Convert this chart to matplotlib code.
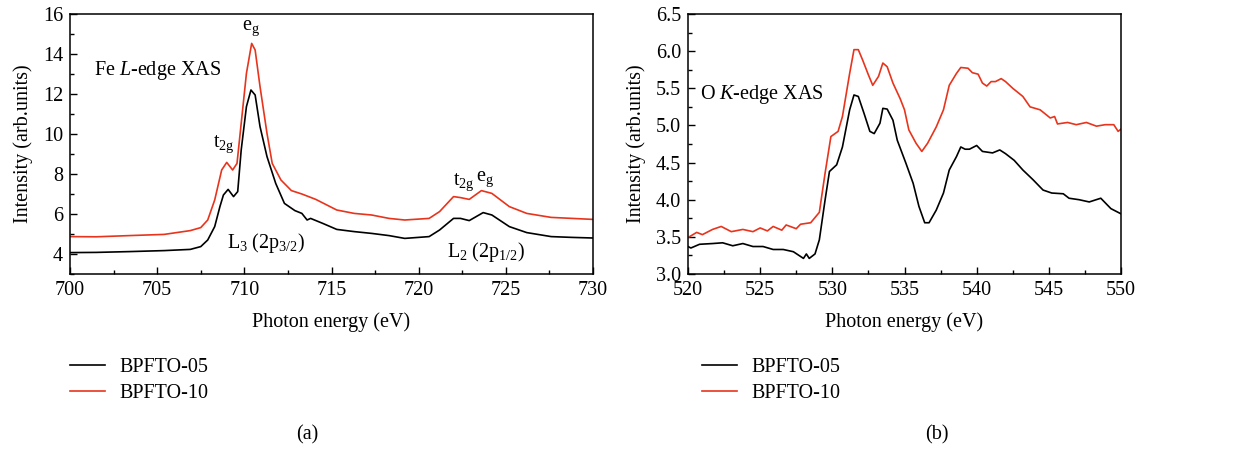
import matplotlib
matplotlib.use("Agg")
import matplotlib.pyplot as plt
from matplotlib.ticker import MultipleLocator, FormatStrFormatter

plt.rcParams['font.family'] = ['Liberation Serif', 'DejaVu Serif']
plt.rcParams['mathtext.fontset'] = 'custom'
plt.rcParams['mathtext.rm'] = 'Liberation Serif'
plt.rcParams['mathtext.it'] = 'Liberation Serif:italic'
plt.rcParams['font.size'] = 14.5

RED = '#e8341c'

# Fe L-edge spectra
fe_e = [700.0, 701.5, 703.4, 705.4, 706.9, 707.5, 707.9, 708.3, 708.6, 708.8, 709.07, 709.38,
        709.62, 709.82, 710.12, 710.38, 710.62, 710.9, 711.3, 711.8, 712.3, 712.9, 713.3,
        713.6, 713.8, 714.5, 715.3, 716.3, 717.3, 718.3, 719.2, 720.6, 721.2, 722.0, 722.4, 722.9,
        723.7, 724.2, 725.2, 726.2, 727.6, 728.8, 730.0]
fe_05 = [4.07, 4.08, 4.12, 4.17, 4.23, 4.37, 4.7, 5.37, 6.37, 6.95, 7.23, 6.87,
         7.12, 9.2, 11.37, 12.2, 11.95, 10.37, 8.87, 7.53, 6.53, 6.17, 6.03,
         5.7, 5.78, 5.53, 5.23, 5.12, 5.03, 4.92, 4.78, 4.87, 5.2, 5.78, 5.78, 5.67,
         6.07, 5.95, 5.37, 5.07, 4.87, 4.83, 4.8]
fe_e10 = [700.0, 701.5, 703.4, 705.4, 706.9, 707.5, 707.9, 708.3, 708.7, 708.99, 709.33, 709.58,
          709.82, 710.12, 710.42, 710.62, 710.9, 711.3, 711.6, 712.1, 712.7, 713.3, 714.1,
          715.3, 716.3, 717.3, 718.3, 719.2, 720.6, 721.2, 722.0, 722.4, 722.9, 723.6,
          724.2, 725.2, 726.2, 727.6, 728.8, 730.0]
fe_10 = [4.87, 4.86, 4.92, 4.98, 5.17, 5.32, 5.7, 6.7, 8.2, 8.58, 8.2, 8.53,
         10.53, 13.03, 14.53, 14.2, 12.37, 10.03, 8.53, 7.7, 7.17, 7.0, 6.73,
         6.2, 6.03, 5.95, 5.78, 5.7, 5.78, 6.12, 6.87, 6.82, 6.73, 7.17,
         7.03, 6.37, 6.03, 5.83, 5.78, 5.73]

# O K-edge spectra
o_e05 = [520.0, 520.2, 520.8, 521.7, 522.4, 523.1, 523.8, 524.5, 525.2, 525.9, 526.6,
         527.3, 528.0, 528.2, 528.4, 528.8, 529.1, 529.5, 529.8, 530.3, 530.7, 531.2,
         531.5, 531.8, 532.2, 532.6, 532.9, 533.3, 533.5, 533.8, 534.2, 534.5, 535.1,
         535.6, 536.0, 536.4, 536.7, 537.2, 537.7, 538.1, 538.6, 538.9, 539.2, 539.5,
         540.0, 540.4, 541.1, 541.6, 542.0, 542.6, 543.2, 543.9, 544.6, 545.2, 546.0,
         546.4, 547.1, 547.8, 548.6, 549.3, 550.0]
o_05 = [3.37, 3.35, 3.40, 3.41, 3.42, 3.38, 3.41, 3.37, 3.37, 3.33, 3.33,
        3.30, 3.21, 3.27, 3.21, 3.27, 3.46, 4.0, 4.38, 4.47, 4.71, 5.21,
        5.41, 5.39, 5.16, 4.92, 4.89, 5.03, 5.23, 5.22, 5.07, 4.80, 4.49,
        4.22, 3.91, 3.69, 3.69, 3.86, 4.09, 4.40, 4.58, 4.71, 4.68, 4.68,
        4.73, 4.65, 4.63, 4.67, 4.62, 4.53, 4.40, 4.27, 4.13, 4.09, 4.08,
        4.02, 4.0, 3.97, 4.02, 3.88, 3.81]
o_e10 = [520.0, 520.6, 521.0, 521.7, 522.3, 523.0, 523.8, 524.5, 525.0, 525.5, 525.9,
         526.5, 526.8, 527.5, 527.8, 528.5, 529.1, 529.5, 529.9, 530.4, 530.7, 531.2,
         531.5, 531.8, 532.1, 532.5, 532.8, 533.2, 533.5, 533.8, 534.2, 534.7, 535.0,
         535.3, 535.8, 536.2, 536.6, 537.2, 537.7, 538.1, 538.6, 538.9, 539.4, 539.7,
         540.1, 540.4, 540.7, 541.0, 541.3, 541.7, 542.0, 542.5, 543.2, 543.7, 544.4,
         545.1, 545.4, 545.6, 546.3, 546.9, 547.6, 548.3, 548.9, 549.5, 549.8, 550.0]
o_10 = [3.49, 3.56, 3.53, 3.60, 3.64, 3.57, 3.60, 3.57, 3.62, 3.58, 3.64,
        3.59, 3.66, 3.61, 3.67, 3.69, 3.83, 4.36, 4.85, 4.92, 5.12, 5.70,
        6.02, 6.02, 5.88, 5.68, 5.54, 5.66, 5.84, 5.79, 5.57, 5.36, 5.21,
        4.94, 4.76, 4.65, 4.76, 4.98, 5.21, 5.54, 5.70, 5.78, 5.77, 5.71,
        5.69, 5.57, 5.53, 5.59, 5.59, 5.63, 5.59, 5.50, 5.39, 5.25, 5.21,
        5.10, 5.12, 5.02, 5.04, 5.01, 5.04, 4.99, 5.01, 5.01, 4.92, 4.95]

labels = ['BPFTO-05', 'BPFTO-10']

W, H = 1250, 449
fig = plt.figure(figsize=(12.5, 4.49), dpi=100)
axa = fig.add_axes([70 / W, 1 - 274 / H, (593 - 70) / W, 260 / H])
axb = fig.add_axes([688 / W, 1 - 274 / H, (1121 - 688) / W, 260 / H])


def style(ax, xmin, xmax, ymin, ymax, xmaj, ymaj):
    ax.set_xlim(xmin, xmax)
    ax.set_ylim(ymin, ymax)
    ax.xaxis.set_major_locator(MultipleLocator(xmaj))
    ax.xaxis.set_minor_locator(MultipleLocator(xmaj / 2))
    ax.yaxis.set_major_locator(MultipleLocator(ymaj))
    ax.yaxis.set_minor_locator(MultipleLocator(ymaj / 2))
    ax.tick_params(which='both', direction='in', top=False, right=False, width=1.0)
    ax.tick_params(which='major', length=5, pad=5)
    ax.tick_params(which='minor', length=3)
    for s in ax.spines.values():
        s.set_linewidth(1.1)
    ax.set_xlabel('Photon energy (eV)', labelpad=9)
    ax.set_ylabel('Intensity (arb.units)', labelpad=7)


la1, = axa.plot(fe_e, fe_05, color='black', lw=1.2)
la2, = axa.plot(fe_e10, fe_10, color=RED, lw=1.2)
style(axa, 700, 730, 3, 16, 5, 2)
axa.set_yticks([4, 6, 8, 10, 12, 14, 16])

axa.text(701.4, 13.2, r'Fe $\mathit{L}$-edge XAS', va='center')
axa.text(710.4, 15.3, r'$\mathregular{e_g}$', ha='center', va='center')
axa.text(708.8, 9.5, r'$\mathregular{t_{2g}}$', ha='center', va='center')
axa.text(709.0, 4.55, r'$\mathregular{L_3\ (2p_{3/2})}$', va='center')
axa.text(722.6, 7.6, r'$\mathregular{t_{2g}}$', ha='center', va='center')
axa.text(723.8, 7.75, r'$\mathregular{e_g}$', ha='center', va='center')
axa.text(721.6, 4.1, r'$\mathregular{L_2\ (2p_{1/2})}$', va='center')

lb1, = axb.plot(o_e05, o_05, color='black', lw=1.2)
lb2, = axb.plot(o_e10, o_10, color=RED, lw=1.2)
style(axb, 520, 550, 3.0, 6.5, 5, 0.5)
axb.yaxis.set_major_formatter(FormatStrFormatter('%.1f'))
axb.text(520.8, 5.41, r'O $\mathit{K}$-edge XAS', va='center')

for handles, x0 in (([la1, la2], 70), ([lb1, lb2], 702)):
    fig.legend(handles, labels, loc='upper left', bbox_to_anchor=(x0 / W, 1 - 358 / H),
               frameon=False, borderpad=0, borderaxespad=0, handlelength=1.75,
               handletextpad=0.7, labelspacing=0.35)

fig.text(307 / W, 1 - 435 / H, '(a)', ha='center', va='center')
fig.text(937 / W, 1 - 435 / H, '(b)', ha='center', va='center')

fig.savefig('out.png', dpi=100)
